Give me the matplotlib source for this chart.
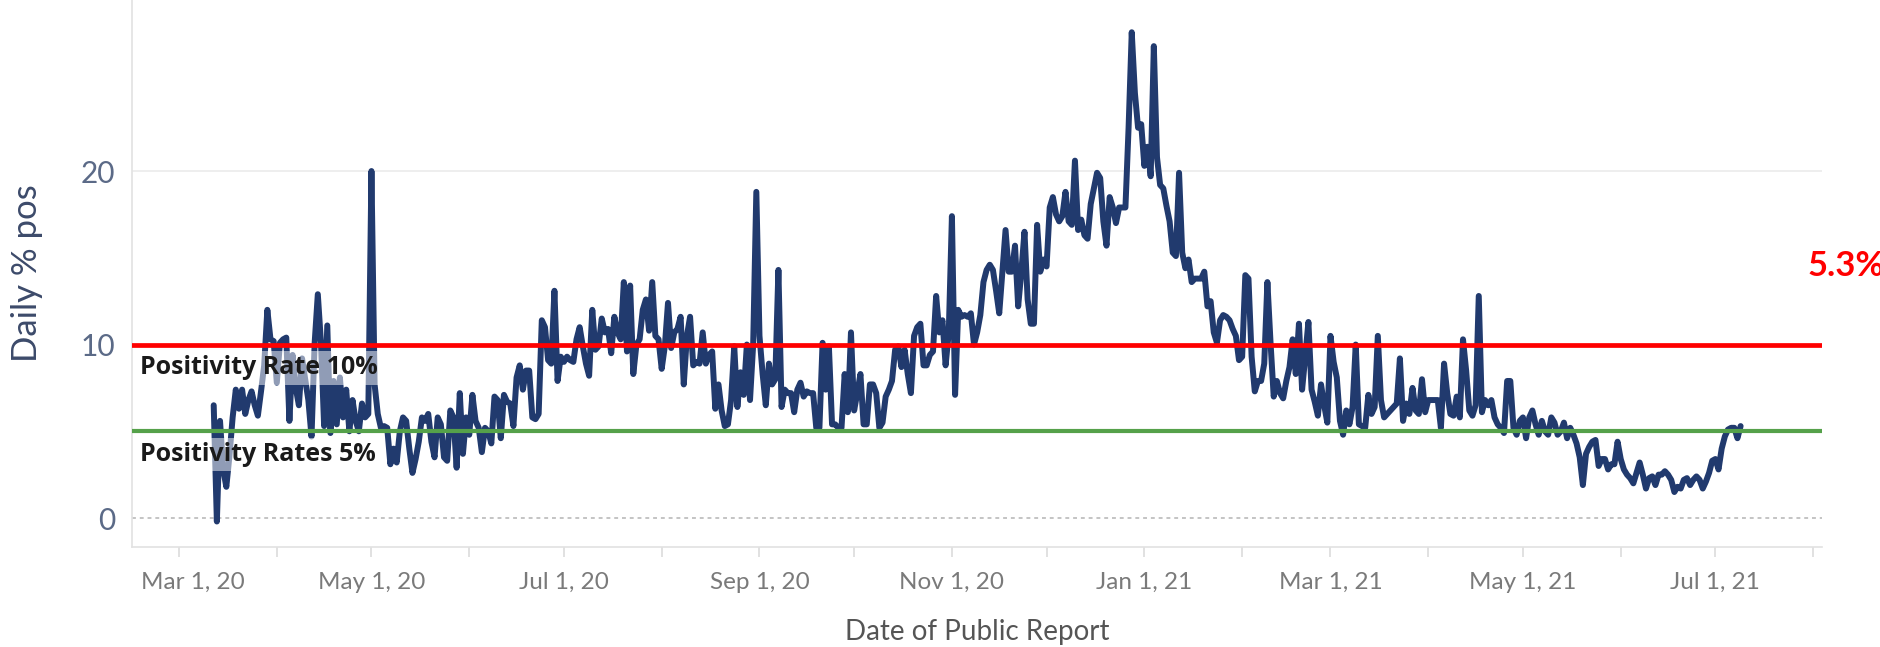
import matplotlib
matplotlib.use("Agg")
import matplotlib.pyplot as plt
import matplotlib.dates as mdates
from matplotlib.transforms import ScaledTranslation
import pandas as pd

# daily % positive, one value per day from 2020-03-12
start_date = "2020-03-12"
daily_pos = [
    # Mar 12 - May 18, 2020
    6.5, -0.2, 5.6, 2.8, 1.8, 3.6, 5.8, 7.4, 6.3, 7.4,
    6.0, 6.8, 7.3, 6.5, 5.9, 7.3, 8.8, 12.0, 10.3, 10.2,
    7.8, 10.1, 10.3, 10.4, 5.6, 9.4, 7.5, 6.5, 9.2, 8.0,
    6.8, 4.7, 10.1, 12.9, 10.1, 5.3, 11.1, 4.9, 7.9, 5.4,
    8.1, 5.8, 7.4, 5.0, 6.8, 5.6, 5.0, 6.6, 5.8, 6.0,
    20.0, 7.7, 6.0, 5.2, 5.3, 5.2, 3.1, 4.0, 3.2, 5.0,
    5.8, 5.6, 4.0, 2.6, 3.4, 4.4, 5.8, 5.6,
    # May 19 - Jul 28
    6.0, 4.4, 3.5, 5.8, 5.4, 3.5, 3.3, 6.2, 5.8, 2.9,
    7.2, 3.7, 5.8, 4.8, 7.1, 5.6, 5.2, 3.8, 5.2, 5.0,
    4.3, 7.0, 6.8, 4.6, 7.1, 6.7, 6.6, 5.3, 8.1, 8.8,
    7.4, 8.5, 8.5, 5.8, 5.7, 6.0, 11.4, 11.0, 9.1, 8.9,
    13.1, 7.9, 9.3, 9.0, 9.3, 9.1, 9.0, 10.3, 11.0, 9.9,
    8.9, 8.2, 12.0, 9.7, 9.9, 11.5, 10.7, 10.9, 9.5, 11.6,
    10.7, 10.3, 13.6, 9.6, 13.4, 8.3, 10.0, 10.3, 12.0, 12.6, 10.8,
    # Jul 29 - Oct 9
    13.6, 10.5, 10.3, 8.6, 9.9, 12.4, 9.8, 10.7, 10.9, 11.6,
    7.7, 10.5, 11.6, 8.8, 9.0, 8.9, 10.7, 8.9, 9.4, 9.6,
    6.3, 7.7, 6.2, 5.3, 5.4, 6.8, 9.9, 6.4, 8.4, 7.1,
    10.0, 6.8, 10.0, 18.8, 10.5, 8.3, 6.5, 8.9, 7.7, 8.0,
    14.3, 6.4, 7.4, 7.2, 7.2, 6.1, 7.4, 7.8, 7.0, 7.3,
    7.2, 7.2, 5.2, 5.2, 10.1, 7.4, 9.9, 5.4, 5.4, 5.2,
    5.2, 8.3, 6.1, 10.7, 6.2, 7.2, 8.3, 5.4, 5.4, 7.7,
    7.7, 7.2, 5.2,
    # Oct 10 - Dec 19
    5.5, 7.0, 7.4, 7.9, 9.7, 9.9, 8.7, 9.7, 8.3, 7.2,
    10.5, 11.0, 11.2, 8.8, 8.8, 9.4, 9.6, 12.8, 10.7, 11.4,
    8.8, 10.7, 17.4, 7.1, 12.0, 11.6, 11.7, 11.6, 11.8, 10.0,
    10.7, 11.7, 13.6, 14.3, 14.6, 14.3, 13.1, 11.8, 14.2, 16.6,
    14.2, 14.2, 15.7, 12.2, 14.2, 16.5, 12.6, 11.2, 11.2, 16.9,
    14.2, 14.9, 14.5, 17.9, 18.5, 17.5, 17.1, 17.4, 18.8, 17.1,
    16.9, 20.6, 16.6, 17.2, 16.3, 16.1, 18.1, 19.0, 19.9, 19.6, 17.1,
    # Dec 20 - Mar 1, 2021
    15.7, 18.5, 17.9, 17.0, 17.9, 17.9, 17.9, 22.5, 28.0, 24.5,
    22.5, 22.7, 20.3, 21.4, 19.7, 27.2, 20.8, 19.2, 19.0, 18.0,
    17.1, 15.3, 15.1, 19.9, 15.3, 14.4, 14.9, 13.6, 13.8, 13.8,
    13.8, 14.2, 12.2, 12.5, 10.7, 10.1, 11.4, 11.7, 11.6, 11.4,
    10.9, 10.5, 9.1, 9.3, 14.0, 13.8, 9.3, 7.3, 7.9, 7.9,
    8.9, 13.6, 10.1, 7.0, 7.9, 7.2, 6.9, 7.9, 8.7, 10.3,
    8.3, 11.2, 7.4, 9.3, 11.3, 7.4, 6.7, 5.9, 7.7, 6.5, 5.5, 10.5,
    # Mar 2 - May 10
    9.0, 8.1, 5.6, 4.8, 6.2, 5.4, 6.4, 10.0, 5.4, 5.3,
    5.2, 7.1, 6.0, 6.4, 10.5, 6.8, 5.8, 6.0, 6.2, 6.4,
    6.6, 9.2, 5.6, 6.6, 6.0, 7.5, 6.2, 6.0, 8.0, 6.1,
    6.8, 6.8, 6.8, 6.8, 5.2, 8.9, 7.2, 6.0, 5.9, 7.0,
    5.8, 10.3, 8.5, 6.2, 5.9, 6.5, 12.8, 6.1, 6.8, 6.5,
    6.8, 5.8, 5.4, 5.2, 4.9, 7.9, 7.9, 5.2, 4.8, 5.6,
    5.8, 4.6, 5.8, 6.2, 5.4, 4.8, 5.6, 5.0, 4.8, 5.8,
    # May 11 - Jul 9
    5.5, 4.8, 5.0, 5.5, 4.6, 5.2, 4.8, 4.3, 3.5, 1.9,
    3.7, 4.1, 4.4, 4.5, 3.0, 3.4, 3.4, 2.8, 3.1, 3.1,
    4.4, 3.4, 2.8, 2.5, 2.3, 2.0, 2.6, 3.2, 2.5, 1.7,
    2.3, 2.4, 1.9, 2.5, 2.5, 2.7, 2.5, 2.2, 1.5, 1.8,
    1.7, 2.2, 2.3, 1.9, 2.2, 2.4, 2.2, 1.7, 2.1, 2.6,
    3.3, 3.4, 2.8, 4.0, 4.7, 5.1, 5.2, 5.2, 4.6, 5.3,
]
dates = pd.date_range(start_date, periods=len(daily_pos), freq="D")

rate_high = 10
rate_low = 5
label_high = "Positivity Rate 10%"
label_low = "Positivity Rates 5%"
latest_label = "5.3%"
y_ticks = [0, 10, 20]

plt.rcParams["font.family"] = ["Lato", "DejaVu Sans"]

fig = plt.figure(figsize=(18.81, 6.47), dpi=100)
ax = fig.add_axes([132 / 1881, 1 - 547 / 647, 1690 / 1881, 547 / 647])

day0 = pd.Timestamp("2020-03-01")
ax.set_xlim(day0 + pd.Timedelta(days=-14.9), day0 + pd.Timedelta(days=520.8))
ax.set_ylim(-1.67, 29.86)

# grid
for t in y_ticks:
    if t == 0:
        ax.axhline(t, color="#c4c4c4", lw=1.4, ls=(0, (2, 2)), zorder=1)
    else:
        ax.axhline(t, color="#ededed", lw=1.3, zorder=1)

ax.plot(dates, daily_pos, color="#213a6e", lw=4.3,
        solid_joinstyle="round", solid_capstyle="round", zorder=3)

ax.axhline(rate_high, color="#ff0000", lw=3.4, zorder=4)
ax.axhline(rate_low, color="#55a14a", lw=3.0, zorder=4)

lx = day0 + pd.Timedelta(days=-12.4)
box = dict(facecolor="white", alpha=0.5, edgecolor="none", pad=3)
for yv, txt in [(8.65, label_high), (3.66, label_low)]:
    ax.text(lx, yv, txt, fontsize=18, fontweight="bold", color="#1a1a1a",
            family=["Open Sans", "DejaVu Sans"], va="center", ha="left",
            bbox=box, zorder=5)

fig.text(1808 / 1881, 1 - 266 / 647, latest_label, fontsize=25, fontweight="bold",
         color="#ff0000", va="center", ha="left")

# axes styling
for side in ["top", "right"]:
    ax.spines[side].set_visible(False)
for side in ["left", "bottom"]:
    ax.spines[side].set_color("#e2e2e2")
    ax.spines[side].set_linewidth(1.2)

ax.set_yticks(y_ticks)
ax.set_yticklabels([str(t) for t in y_ticks])
ax.tick_params(axis="y", length=0, pad=12, labelsize=21.5, labelcolor="#5b6a87")

ax.xaxis.set_major_locator(mdates.MonthLocator(bymonth=[1, 3, 5, 7, 9, 11]))
ax.xaxis.set_minor_locator(mdates.MonthLocator())
ax.xaxis.set_major_formatter(mdates.DateFormatter("%b %-d, %y"))
ax.tick_params(axis="x", which="both", length=7, width=1.2, color="#dcdcdc",
               pad=11, labelsize=17.5, labelcolor="#7a7a7a")

fig.canvas.draw()
first = ax.get_xticklabels()[0]
first.set_transform(first.get_transform() + ScaledTranslation(0.14, 0, fig.dpi_scale_trans))

ax.set_ylabel("Daily % pos", fontsize=25, color="#3c4a6a")
ax.yaxis.set_label_coords(-0.0527, 0.5)
ax.set_xlabel("Date of Public Report", fontsize=20, color="#555555")
ax.xaxis.set_label_coords(0.5, -0.1554)
ax.xaxis.label.set_va("center")

fig.savefig("out.png", dpi=100, facecolor="white")
